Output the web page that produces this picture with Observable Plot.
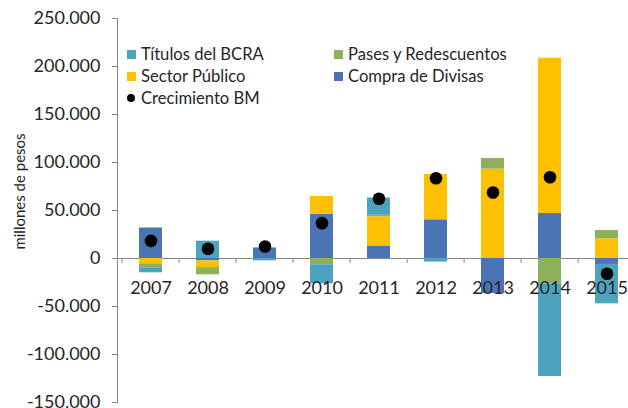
<!DOCTYPE html>
<html>
<head>
<meta charset="utf-8">
<script src="https://cdn.jsdelivr.net/npm/d3@7"></script>
<script src="https://cdn.jsdelivr.net/npm/@observablehq/plot@0.6"></script>
<style>
  html, body { margin: 0; padding: 0; background: #fff; overflow: hidden; }
  #wrap { position: relative; width: 628px; height: 408px; font-family: Lato, "Open Sans", sans-serif; }
  .leg { position: absolute; font-size: 16.6px; color: #262626; line-height: 20px; white-space: nowrap; }
  .sw { position: absolute; width: 9px; height: 9px; }
  .dt { position: absolute; width: 8px; height: 8px; border-radius: 50%; background: #000; }
</style>
</head>
<body>
<div id="wrap"></div>
<script>
const years = ["2007","2008","2009","2010","2011","2012","2013","2014","2015"];
const seriesNames = ["Compra de Divisas","Sector Público","Pases y Redescuentos","Títulos del BCRA"];
const seriesColors = ["#4a74b4","#ffc000","#8fb05a","#4ba3be"];
const compra   = [31800, -2500, 11000, 46000, 12500, 40300, -36500, 46900, -6200];
const sector   = [-5500, -7000, 0, 18600, 31000, 47200, 93000, 161700, 20500];
const pases    = [-4200, -7500, 0, -6500, 1500, 0, 11200, -26400, 8700];
const titulos  = [-5200, 18000, -2500, -19800, 18000, -3700, 0, -96500, -41000];
const crecimiento = [18400, 10100, 12500, 36800, 62200, 83600, 68750, 84700, -15900];
const yTicks = [-150000,-100000,-50000,0,50000,100000,150000,200000,250000];
const legendLeft = [["Títulos del BCRA","Sector Público"],["Pases y Redescuentos","Compra de Divisas"]];

const seriesValues = [compra, sector, pases, titulos];
const rows = years.flatMap((yr, i) => seriesNames.map((s, j) => ({year: yr, series: s, value: seriesValues[j][i]})));
const dots = years.map((yr, i) => ({year: yr, value: crecimiento[i]}));

const loc = d3.formatLocale({decimal: ",", thousands: ".", grouping: [3], currency: ["$",""], minus: "-"});
const fmt = loc.format(",.0f");

const xRange = [118, 638];
const step = (xRange[1] - xRange[0]) / years.length;
const axisGray = "#868686";
const textColor = "#262626";

const chart = Plot.plot({
  width: 628, height: 408,
  marginLeft: 117, marginRight: 0, marginTop: 18, marginBottom: 6,
  style: {fontFamily: "Lato, 'Open Sans', sans-serif", background: "transparent", overflow: "hidden"},
  x: {domain: years, range: xRange, paddingInner: 0.6, paddingOuter: 0.3, axis: null},
  y: {domain: [-150000, 250000], axis: null},
  color: {domain: seriesNames, range: seriesColors},
  marks: [
    Plot.ruleY([0], {stroke: axisGray, strokeWidth: 1}),
    Plot.ruleX(years, {x: d => d, dx: -step / 2, y1: () => 0, y2: () => 0, insetBottom: -5, stroke: axisGray}),
    Plot.barY(rows, {x: "year", y: "value", fill: "series", order: seriesNames}),
    Plot.axisY({ticks: yTicks, tickFormat: fmt, fontSize: 18, tickSize: 5, tickPadding: 12, stroke: axisGray, fill: textColor, label: null}),
    Plot.frame({anchor: "left", stroke: axisGray}),
    Plot.text(years, {x: d => d, y: () => 0, dy: 30, text: d => d, fontSize: 18, fill: textColor}),
    Plot.dot(dots, {x: "year", y: "value", r: 6.3, fill: "#000", stroke: "none"}),
    Plot.text(["millones de pesos"], {frameAnchor: "left", textAnchor: "middle", lineAnchor: "middle", rotate: -90, dx: -97, dy: -19, fontSize: 15, fill: textColor})
  ]
});

const wrap = document.getElementById("wrap");
wrap.appendChild(chart);

const rowY = [54, 76];
const colX = [[127, 141], [334, 348]];
legendLeft.forEach((col, ci) => {
  col.forEach((name, ri) => {
    const sw = document.createElement("div");
    sw.className = "sw";
    sw.style.left = colX[ci][0] + "px";
    sw.style.top = (rowY[ri] - 4.5) + "px";
    sw.style.background = seriesColors[seriesNames.indexOf(name)];
    wrap.appendChild(sw);
    const t = document.createElement("div");
    t.className = "leg";
    t.style.left = colX[ci][1] + "px";
    t.style.top = (rowY[ri] - 10) + "px";
    t.textContent = name;
    wrap.appendChild(t);
  });
});
const dt = document.createElement("div");
dt.className = "dt";
dt.style.left = "127px"; dt.style.top = (98 - 4) + "px";
wrap.appendChild(dt);
const tt = document.createElement("div");
tt.className = "leg";
tt.style.left = "141px"; tt.style.top = (98 - 10) + "px";
tt.textContent = "Crecimiento BM";
wrap.appendChild(tt);
</script>
</body>
</html>
